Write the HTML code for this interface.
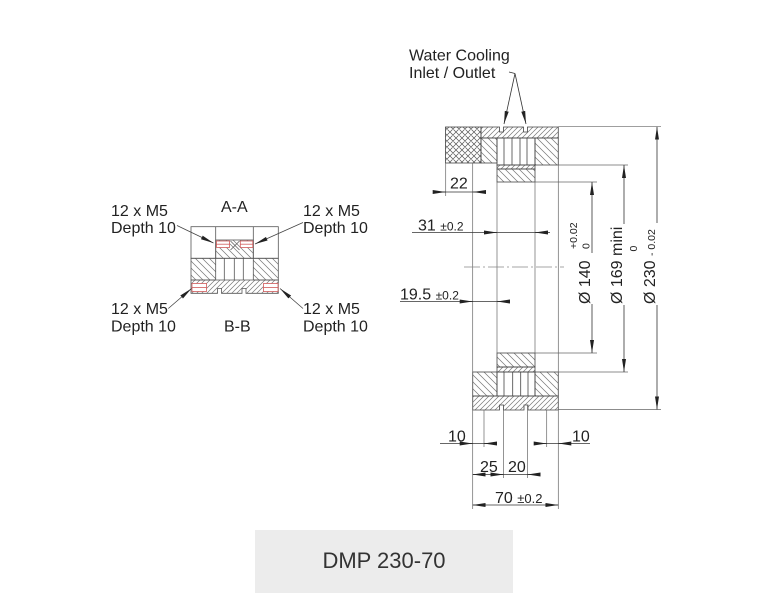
<!DOCTYPE html>
<html>
<head>
<meta charset="utf-8">
<style>
html,body{margin:0;padding:0;background:#fff;}
svg{display:block;}
text{font-family:"Liberation Sans",Arial,sans-serif;fill:#222;}
</style>
</head>
<body>
<svg width="768" height="611" viewBox="0 0 768 611" xmlns="http://www.w3.org/2000/svg">
<defs>
  <pattern id="bs" width="7" height="7" patternUnits="userSpaceOnUse">
    <path d="M-1,-1 L8,8 M-1,6 L1,8 M6,-1 L8,1" stroke="#777" stroke-width="0.7" fill="none"/>
  </pattern>
  <pattern id="fs" width="5" height="5" patternUnits="userSpaceOnUse">
    <path d="M-1,6 L6,-1 M-1,1 L1,-1 M4,6 L6,4" stroke="#777" stroke-width="0.7" fill="none"/>
  </pattern>
  <pattern id="xh" width="6" height="6" patternUnits="userSpaceOnUse">
    <path d="M-1,7 L7,-1 M-1,1 L1,-1 M5,7 L7,5 M-1,-1 L7,7 M-1,5 L1,7 M5,-1 L7,1" stroke="#555" stroke-width="0.7" fill="none"/>
  </pattern>
  <marker id="a" viewBox="0 0 13 4.4" refX="13" refY="2.2" markerWidth="13" markerHeight="4.4" markerUnits="userSpaceOnUse" orient="auto">
    <path d="M0,0.2 L13,2.2 L0,4.2 z" fill="#222"/>
  </marker>
</defs>

<rect width="768" height="611" fill="#fff"/>

<!-- ============ LEFT SMALL SECTION (A-A / B-B) ============ -->
<g stroke="#555" stroke-width="0.8" fill="none">
  <rect x="191" y="226.7" width="87.3" height="31.6"/>
  <line x1="215.7" y1="226.7" x2="215.7" y2="258.3"/>
  <line x1="253.3" y1="226.7" x2="253.3" y2="258.3"/>
  <rect x="215.7" y="240" width="37.6" height="18.3" fill="url(#bs)"/>
  <rect x="191" y="258.3" width="24.7" height="21.7" fill="url(#bs)"/>
  <rect x="253.3" y="258.3" width="25" height="21.7" fill="url(#bs)"/>
  <line x1="224.3" y1="258.3" x2="224.3" y2="280"/>
  <line x1="234.3" y1="258.3" x2="234.3" y2="280"/>
  <line x1="243.3" y1="258.3" x2="243.3" y2="280"/>
  <polygon points="191,280 278.3,280 278.3,293.3 246,293.3 246,288.5 242,288.5 242,293.3 221.5,293.3 221.5,288.5 217.5,288.5 217.5,293.3 191,293.3" fill="url(#fs)"/>
</g>
<!-- red holes -->
<g stroke="#d05a5a" stroke-width="0.8" fill="#fff">
  <rect x="216.5" y="241" width="13" height="6.5"/>
  <rect x="240.3" y="241" width="12.5" height="6.5"/>
  <rect x="192" y="283.5" width="14.5" height="8"/>
  <rect x="263.5" y="283.5" width="14.5" height="8"/>
  <line x1="216.5" y1="244.2" x2="229.5" y2="244.2"/>
  <line x1="240.3" y1="244.2" x2="252.8" y2="244.2"/>
  <line x1="192" y1="287.5" x2="206.5" y2="287.5"/>
  <line x1="263.5" y1="287.5" x2="278" y2="287.5"/>
</g>
<g stroke="#555" stroke-width="0.7">
  <line x1="230.5" y1="241" x2="239.5" y2="250"/>
  <line x1="239.5" y1="241" x2="230.5" y2="250"/>
</g>
<!-- leaders -->
<g stroke="#444" stroke-width="0.8" fill="none">
  <line x1="177" y1="225.5" x2="213.5" y2="243" marker-end="url(#a)"/>
  <line x1="303" y1="222.5" x2="255" y2="244" marker-end="url(#a)"/>
  <line x1="168.3" y1="308.5" x2="191.5" y2="288.5" marker-end="url(#a)"/>
  <line x1="303" y1="308.5" x2="280" y2="288.5" marker-end="url(#a)"/>
</g>
<g font-size="16">
  <text x="111" y="216">12 x M5</text>
  <text x="111" y="233">Depth 10</text>
  <text x="303" y="216">12 x M5</text>
  <text x="303" y="233">Depth 10</text>
  <text x="111" y="314">12 x M5</text>
  <text x="111" y="331.5">Depth 10</text>
  <text x="303" y="314">12 x M5</text>
  <text x="303" y="331.5">Depth 10</text>
  <text x="221" y="212">A-A</text>
  <text x="224" y="331.5">B-B</text>
</g>

<!-- ============ MAIN SECTION ============ -->
<g stroke="#444" stroke-width="0.8" fill="none">
  <!-- top section -->
  <rect x="445.5" y="127" width="35.5" height="36" fill="url(#xh)"/>
  <polygon points="481,127 499.5,127 499.5,132 503.5,132 503.5,127 523.5,127 523.5,132 527.5,132 527.5,127 558.3,127 558.3,138 481,138" fill="url(#fs)"/>
  <rect x="481" y="138" width="16" height="25" fill="url(#bs)"/>
  <rect x="497" y="138" width="38" height="27"/>
  <line x1="504" y1="138" x2="504" y2="165"/>
  <line x1="512" y1="138" x2="512" y2="165"/>
  <line x1="520" y1="138" x2="520" y2="165"/>
  <line x1="527" y1="138" x2="527" y2="165"/>
  <rect x="535" y="138" width="23.3" height="27" fill="url(#bs)"/>
  <rect x="497" y="165" width="38" height="4" fill="url(#fs)"/>
  <rect x="497" y="169" width="38" height="13" fill="url(#bs)"/>

  <!-- bottom section -->
  <rect x="497" y="353" width="38" height="14" fill="url(#bs)"/>
  <rect x="497" y="367" width="38" height="5" fill="url(#fs)"/>
  <rect x="472.7" y="372" width="24.3" height="24" fill="url(#bs)"/>
  <rect x="497" y="372" width="38" height="24"/>
  <line x1="504" y1="372" x2="504" y2="396"/>
  <line x1="512.7" y1="372" x2="512.7" y2="396"/>
  <line x1="520.7" y1="372" x2="520.7" y2="396"/>
  <line x1="528" y1="372" x2="528" y2="396"/>
  <rect x="535" y="372" width="23.3" height="24" fill="url(#bs)"/>
  <polygon points="472.7,396 558.3,396 558.3,410 528,410 528,405 524,405 524,410 503.5,410 503.5,405 499.5,405 499.5,410 472.7,410" fill="url(#fs)"/>
</g>

<!-- body lines & extension lines -->
<g stroke="#666" stroke-width="0.7" fill="none">
  <line x1="472.7" y1="163" x2="472.7" y2="509"/>
  <line x1="497" y1="182" x2="497" y2="353"/>
  <line x1="535" y1="182" x2="535" y2="353"/>
  <line x1="558.3" y1="127" x2="558.3" y2="509"/>
  <line x1="445.7" y1="163" x2="445.7" y2="196"/>
  <!-- right ext -->
  <line x1="558.3" y1="126.7" x2="661" y2="126.7"/>
  <line x1="558.3" y1="165" x2="628" y2="165"/>
  <line x1="535" y1="182" x2="597" y2="182"/>
  <line x1="535" y1="353" x2="597" y2="353"/>
  <line x1="558.3" y1="372" x2="628" y2="372"/>
  <line x1="558.3" y1="409.5" x2="661" y2="409.5"/>
  <!-- bottom ext -->
  <line x1="484" y1="410" x2="484" y2="447"/>
  <line x1="546.7" y1="410" x2="546.7" y2="447"/>
  <line x1="503.5" y1="405" x2="503.5" y2="478"/>
  <line x1="527.5" y1="405" x2="527.5" y2="478"/>
</g>
<!-- center line -->
<line x1="464" y1="267" x2="564" y2="267" stroke="#888" stroke-width="0.7" stroke-dasharray="16 3 2 3"/>

<!-- dimension lines -->
<g stroke="#333" stroke-width="0.8" fill="none">
  <!-- 22 -->
  <line x1="433" y1="192" x2="486" y2="192"/>
  <line x1="433" y1="192" x2="445.7" y2="192" marker-end="url(#a)"/>
  <line x1="486" y1="192" x2="473" y2="192" marker-end="url(#a)"/>
  <!-- 31 -->
  <line x1="412" y1="232.5" x2="550" y2="232.5"/>
  <line x1="484" y1="232.5" x2="497" y2="232.5" marker-end="url(#a)"/>
  <line x1="548" y1="232.5" x2="535" y2="232.5" marker-end="url(#a)"/>
  <!-- 19.5 -->
  <line x1="400" y1="301.5" x2="510" y2="301.5"/>
  <line x1="460" y1="301.5" x2="472.7" y2="301.5" marker-end="url(#a)"/>
  <line x1="510" y1="301.5" x2="497" y2="301.5" marker-end="url(#a)"/>
  <!-- 10 left -->
  <line x1="440" y1="443.5" x2="496" y2="443.5"/>
  <line x1="460" y1="443.5" x2="472.7" y2="443.5" marker-end="url(#a)"/>
  <line x1="496" y1="443.5" x2="484" y2="443.5" marker-end="url(#a)"/>
  <!-- 10 right -->
  <line x1="535" y1="443.5" x2="590" y2="443.5"/>
  <line x1="534" y1="443.5" x2="546.7" y2="443.5" marker-end="url(#a)"/>
  <line x1="571" y1="443.5" x2="558.3" y2="443.5" marker-end="url(#a)"/>
  <!-- 25 / 20 -->
  <line x1="472.7" y1="474.5" x2="540" y2="474.5"/>
  <line x1="485" y1="474.5" x2="472.7" y2="474.5" marker-end="url(#a)"/>
  <line x1="491" y1="474.5" x2="503.5" y2="474.5" marker-end="url(#a)"/>
  <line x1="540" y1="474.5" x2="527.5" y2="474.5" marker-end="url(#a)"/>
  <!-- 70 -->
  <line x1="472.7" y1="505" x2="558.3" y2="505"/>
  <line x1="486" y1="505" x2="472.7" y2="505" marker-end="url(#a)"/>
  <line x1="545" y1="505" x2="558.3" y2="505" marker-end="url(#a)"/>
  <!-- Φ140 -->
  <line x1="592" y1="253" x2="592" y2="182" marker-end="url(#a)"/>
  <line x1="592" y1="304" x2="592" y2="353" marker-end="url(#a)"/>
  <!-- Φ169 -->
  <line x1="624" y1="224" x2="624" y2="165" marker-end="url(#a)"/>
  <line x1="624" y1="305" x2="624" y2="372" marker-end="url(#a)"/>
  <!-- Φ230 -->
  <line x1="657" y1="223" x2="657" y2="126.7" marker-end="url(#a)"/>
  <line x1="657" y1="305" x2="657" y2="409.5" marker-end="url(#a)"/>
  <!-- water cooling leaders -->
  <polyline points="509,72 515,73.5"/>
  <line x1="515" y1="73.5" x2="504" y2="124" marker-end="url(#a)"/>
  <line x1="515" y1="73.5" x2="526" y2="124" marker-end="url(#a)"/>
</g>

<!-- dimension texts -->
<g font-size="16">
  <text x="409" y="60.5">Water Cooling</text>
  <text x="409" y="78">Inlet / Outlet</text>
  <text x="450" y="188.5">22</text>
  <text x="418" y="230.5">31 <tspan font-size="12">±0.2</tspan></text>
  <text x="400" y="299.5">19.5 <tspan font-size="12">±0.2</tspan></text>
  <text x="448" y="441.5">10</text>
  <text x="572" y="441.5">10</text>
  <text x="480" y="472">25</text>
  <text x="508" y="472">20</text>
  <text x="495" y="503">70 <tspan font-size="13">±0.2</tspan></text>
</g>
<!-- rotated -->
<g font-size="16">
  <text transform="translate(590,304) rotate(-90)">Ø 140</text>
  <text transform="translate(622,304) rotate(-90)">Ø 169 mini</text>
  <text transform="translate(655,304) rotate(-90)">Ø 230</text>
</g>
<g font-size="10.5">
  <text transform="translate(577,249) rotate(-90)">+0.02</text>
  <text transform="translate(589.5,249) rotate(-90)">0</text>
  <text transform="translate(637,251.5) rotate(-90)">0</text>
  <text transform="translate(655,256) rotate(-90)">- 0.02</text>
</g>

<!-- label box -->
<rect x="255" y="530" width="258" height="63" fill="#ececec"/>
<text x="384" y="568" font-size="22" text-anchor="middle" style="fill:#333">DMP 230-70</text>
</svg>
</body>
</html>
